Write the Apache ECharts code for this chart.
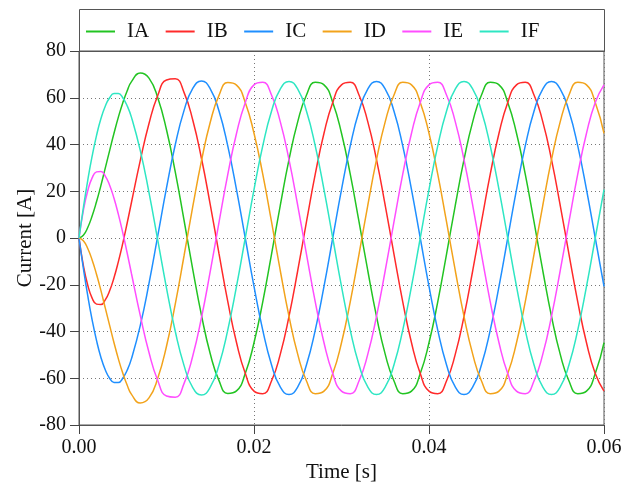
<!DOCTYPE html>
<html>
<head>
<meta charset="utf-8">
<script src="https://cdn.jsdelivr.net/npm/echarts@6/dist/echarts.min.js"></script>
<style>
    html, body { margin: 0; padding: 0; background: #fff; }
    #chart { width: 633px; height: 488px; }
</style>
</head>
<body>
<div id="chart"></div>
<script>
// time samples [s] (finer in the start-up transient)
const time = [0, 0.0005, 0.001, 0.0015, 0.002, 0.0025, 0.003, 0.0035, 0.004, 0.0045, 0.005, 0.0055, 0.006,
    0.007, 0.008, 0.009, 0.010, 0.011, 0.012, 0.013, 0.014, 0.015, 0.016, 0.017, 0.018, 0.019, 0.020,
    0.021, 0.022, 0.023, 0.024, 0.025, 0.026, 0.027, 0.028, 0.029, 0.030,
    0.031, 0.032, 0.033, 0.034, 0.035, 0.036, 0.037, 0.038, 0.039, 0.040,
    0.041, 0.042, 0.043, 0.044, 0.045, 0.046, 0.047, 0.048, 0.049, 0.050,
    0.051, 0.052, 0.053, 0.054, 0.055, 0.056, 0.057, 0.058, 0.059, 0.060]

// phase currents [A]
const IA = [0, 1.2, 4.5, 9.4, 15.5, 22.4, 29.9, 37.4, 44.8, 51.7, 57.8, 62.9, 66.9,
    70.6, 68.4, 60.0, 46.3, 28.3, 7.7, -13.4, -33.1, -49.5, -61.0, -66.5, -65.4, -58.0, -44.8,
    -27.3, -7.0, 13.9, 33.5, 49.8, 61.2, 66.6, 65.5, 58.0, 44.8,
    27.3, 7.0, -13.9, -33.5, -49.8, -61.2, -66.6, -65.5, -58.0, -44.8,
    -27.3, -7.0, 13.9, 33.5, 49.8, 61.2, 66.6, 65.5, 58.0, 44.8,
    27.3, 7.0, -13.9, -33.5, -49.8, -61.2, -66.6, -65.5, -58.0, -44.8]
const IB = [0, -11.8, -20.2, -25.7, -28.3, -28.5, -26.5, -22.6, -17.0, -10.1, -2.3, 6.3, 15.3,
    33.1, 49.0, 61.0, 67.6, 68.1, 62.3, 50.5, 34.0, 14.3, -6.7, -27.1, -44.7, -57.9, -65.5,
    -66.6, -61.2, -49.8, -33.5, -13.9, 7.0, 27.3, 44.8, 58.0, 65.5,
    66.6, 61.2, 49.8, 33.5, 13.9, -7.0, -27.3, -44.8, -58.0, -65.5,
    -66.6, -61.2, -49.8, -33.5, -13.9, 7.0, 27.3, 44.8, 58.0, 65.5,
    66.6, 61.2, 49.8, 33.5, 13.9, -7.0, -27.3, -44.8, -58.0, -65.5]
const IC = [0, -13.0, -24.7, -35.0, -43.8, -51.0, -56.4, -60.0, -61.8, -61.8, -60.0, -56.6, -51.6,
    -37.5, -19.4, 0.9, 21.4, 39.9, 54.5, 64.0, 67.2, 63.8, 54.3, 39.4, 20.7, 0, -20.7,
    -39.4, -54.2, -63.7, -67.0, -63.7, -54.2, -39.4, -20.7, 0, 20.7,
    39.4, 54.2, 63.7, 67.0, 63.7, 54.2, 39.4, 20.7, 0, -20.7,
    -39.4, -54.2, -63.7, -67.0, -63.7, -54.2, -39.4, -20.7, 0, 20.7,
    39.4, 54.2, 63.7, 67.0, 63.7, 54.2, 39.4, 20.7, 0, -20.7]
const ID = [0, -1.2, -4.5, -9.4, -15.5, -22.4, -29.9, -37.4, -44.8, -51.7, -57.8, -62.9, -66.9,
    -70.6, -68.4, -60.0, -46.3, -28.3, -7.7, 13.4, 33.1, 49.5, 61.0, 66.5, 65.4, 58.0, 44.8,
    27.3, 7.0, -13.9, -33.5, -49.8, -61.2, -66.6, -65.5, -58.0, -44.8,
    -27.3, -7.0, 13.9, 33.5, 49.8, 61.2, 66.6, 65.5, 58.0, 44.8,
    27.3, 7.0, -13.9, -33.5, -49.8, -61.2, -66.6, -65.5, -58.0, -44.8,
    -27.3, -7.0, 13.9, 33.5, 49.8, 61.2, 66.6, 65.5, 58.0, 44.8]
const IE = [0, 11.8, 20.2, 25.7, 28.3, 28.5, 26.5, 22.6, 17.0, 10.1, 2.3, -6.3, -15.3,
    -33.1, -49.0, -61.0, -67.6, -68.1, -62.3, -50.5, -34.0, -14.3, 6.7, 27.1, 44.7, 57.9, 65.5,
    66.6, 61.2, 49.8, 33.5, 13.9, -7.0, -27.3, -44.8, -58.0, -65.5,
    -66.6, -61.2, -49.8, -33.5, -13.9, 7.0, 27.3, 44.8, 58.0, 65.5,
    66.6, 61.2, 49.8, 33.5, 13.9, -7.0, -27.3, -44.8, -58.0, -65.5,
    -66.6, -61.2, -49.8, -33.5, -13.9, 7.0, 27.3, 44.8, 58.0, 65.5]
const IF = [0, 13.0, 24.7, 35.0, 43.8, 51.0, 56.4, 60.0, 61.8, 61.8, 60.0, 56.6, 51.6,
    37.5, 19.4, -0.9, -21.4, -39.9, -54.5, -64.0, -67.2, -63.8, -54.3, -39.4, -20.7, 0, 20.7,
    39.4, 54.2, 63.7, 67.0, 63.7, 54.2, 39.4, 20.7, 0, -20.7,
    -39.4, -54.2, -63.7, -67.0, -63.7, -54.2, -39.4, -20.7, 0, 20.7,
    39.4, 54.2, 63.7, 67.0, 63.7, 54.2, 39.4, 20.7, 0, -20.7,
    -39.4, -54.2, -63.7, -67.0, -63.7, -54.2, -39.4, -20.7, 0, 20.7]

const names = ['IA', 'IB', 'IC', 'ID', 'IE', 'IF']
const currents = [IA, IB, IC, ID, IE, IF]
const colors = ['#22c422', '#ff2a2a', '#1f8fff', '#f2a31b', '#ff4dff', '#2ee6c3']

const font = 'Liberation Serif, Times New Roman, serif'
const myChart = echarts.init(document.getElementById('chart'))

myChart.setOption({
    animation: false,
    color: colors,
    //legend frame above the plot
    graphic: [{
        type: 'rect',
        shape: { x: 79.5, y: 9.5, width: 525, height: 42 },
        style: { fill: 'none', stroke: '#555', lineWidth: 1 },
        z: 10
    }],
    legend: {
        left: 81,
        top: 16,
        padding: 5,
        icon: 'rect',
        itemWidth: 29,
        itemHeight: 2,
        itemGap: 16.5,
        data: names,
        textStyle: {
            fontFamily: font,
            fontSize: 21,
            color: '#111',
            width: 30,
            padding: [0, 0, 0, 7]
        }
    },
    grid: {
        left: 79,
        right: 29,
        top: 51,
        bottom: 61,
        show: true,
        borderColor: '#555',
        borderWidth: 1
    },
    xAxis: {
        type: 'value',
        min: 0,
        max: 0.06,
        interval: 0.02,
        name: 'Time [s]',
        nameLocation: 'middle',
        nameGap: 37,
        nameMoveOverlap: false,
        nameTextStyle: { fontFamily: font, fontSize: 21, color: '#111' },
        axisLine: { show: true, onZero: false, lineStyle: { color: '#555' } },
        axisTick: { show: true, inside: false, length: 9, lineStyle: { color: '#444', width: 1 } },
        axisLabel: {
            formatter: (v) => v.toFixed(2),
            fontFamily: font,
            fontSize: 20,
            color: '#111',
            margin: 13
        },
        splitLine: { show: true, lineStyle: { color: '#777', type: [1, 3] } }
    },
    yAxis: {
        type: 'value',
        min: -80,
        max: 80,
        interval: 20,
        name: 'Current [A]',
        nameLocation: 'middle',
        nameGap: 43,
        nameMoveOverlap: false,
        nameTextStyle: { fontFamily: font, fontSize: 21, color: '#111' },
        axisLine: { show: true, onZero: false, lineStyle: { color: '#555' } },
        axisTick: { show: true, inside: false, length: 9, lineStyle: { color: '#444', width: 1 } },
        axisLabel: {
            fontFamily: font,
            fontSize: 20,
            color: '#111',
            margin: 13
        },
        splitLine: { show: true, lineStyle: { color: '#777', type: [1, 3] } }
    },
    series: names.map((name, k) => ({
        name: name,
        type: 'line',
        data: currents[k].map((v, i) => [time[i], v]),
        symbol: 'none',
        smooth: true,
        lineStyle: { width: 1.5 }
    }))
})
</script>
</body>
</html>
